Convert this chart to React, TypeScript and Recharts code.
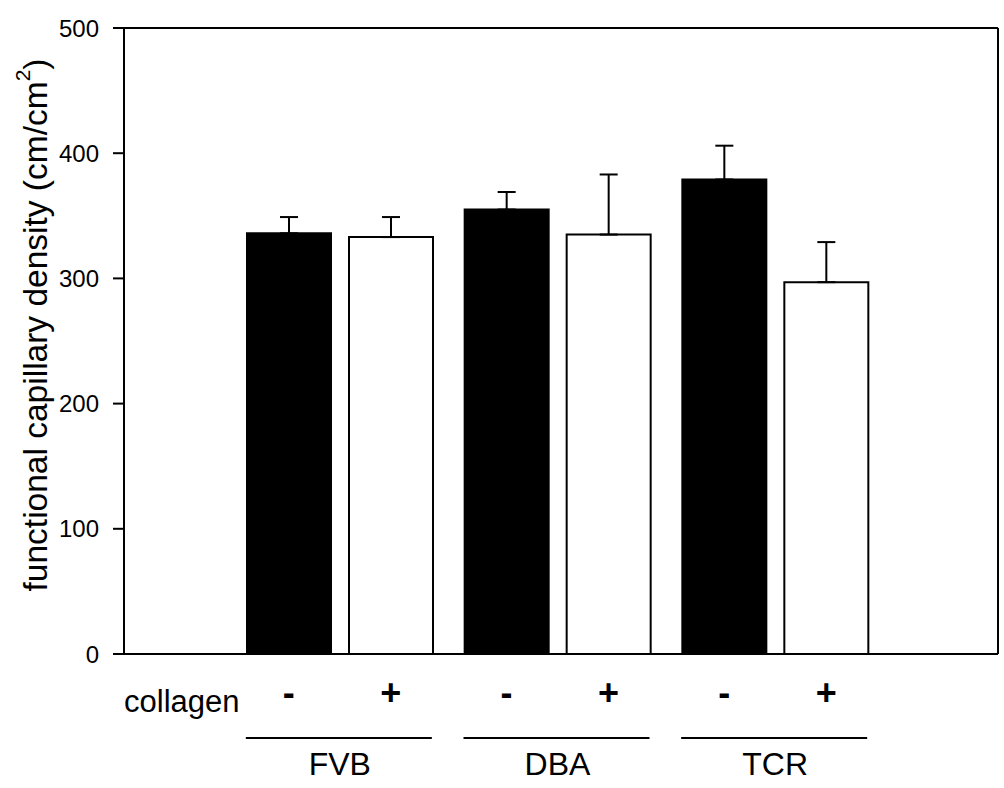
import React from 'react';
import { BarChart, Bar, XAxis, YAxis, ErrorBar, Label, CartesianGrid } from 'recharts';

const groups = ['FVB', 'DBA', 'TCR'];
const withoutCollagen = [336, 355, 379];
const withoutCollagenSem = [13, 14, 27];
const withCollagen = [333, 335, 297];
const withCollagenSem = [16, 48, 32];
const yTicks = [0, 100, 200, 300, 400, 500];

const data = groups.map((group, i) => ({
  group,
  minus: withoutCollagen[i],
  minusErr: [0, withoutCollagenSem[i]],
  plus: withCollagen[i],
  plusErr: [0, withCollagenSem[i]],
}));

const FONT = '"Liberation Sans", Arial, sans-serif';
const BAR_SIZE = 84;
const BAR_GAP = 18;
const HALF = (BAR_SIZE + BAR_GAP) / 2;

function GroupTick(props: any) {
  const { x, y, payload, index } = props;
  return (
    <g fontFamily={FONT} fill="#000">
      {index === 0 && (
        <text x={x - 158} y={y + 58} fontSize={31} textAnchor="middle">
          collagen
        </text>
      )}
      <text x={x - HALF} y={y + 51} fontSize={36} fontWeight="bold" textAnchor="middle">
        -
      </text>
      <text x={x + HALF} y={y + 51} fontSize={36} fontWeight="bold" textAnchor="middle">
        +
      </text>
      <line x1={x - HALF - 43} x2={x + HALF + 41} y1={y + 84} y2={y + 84} stroke="#000" strokeWidth={2} />
      <text x={x} y={y + 121} fontSize={32} textAnchor="middle">
        {payload.value}
      </text>
    </g>
  );
}

function YTitle(props: any) {
  const { viewBox } = props;
  const cx = viewBox.x + 35;
  const cy = 325;
  return (
    <text
      x={cx}
      y={cy}
      transform={`rotate(-90, ${cx}, ${cy})`}
      textAnchor="middle"
      dominantBaseline="central"
      fontFamily={FONT}
      fontSize={33.5}
      fill="#000"
    >
      functional capillary density (cm/cm
      <tspan fontSize={21} dy={-13}>2</tspan>
      <tspan dy={13}>)</tspan>
    </text>
  );
}

export default function App() {
  return (
    <div style={{ position: 'absolute', left: 0, top: 0, background: '#fff' }}>
      <BarChart
        width={1004}
        height={788}
        data={data}
        margin={{ top: 28, right: 6, bottom: 0, left: 0 }}
        barSize={BAR_SIZE}
        barGap={BAR_GAP}
      >
        {/* top and right frame lines */}
        <CartesianGrid
          stroke="#000"
          strokeWidth={2}
          horizontalCoordinatesGenerator={({ offset }: any) => [offset.top]}
          verticalCoordinatesGenerator={({ offset }: any) => [offset.left + offset.width]}
        />
        <XAxis
          dataKey="group"
          height={134}
          padding={{ left: 107, right: 114 }}
          axisLine={{ stroke: '#000', strokeWidth: 2 }}
          tickLine={false}
          tickSize={0}
          tickMargin={0}
          tick={<GroupTick />}
          interval={0}
        />
        <YAxis
          width={124}
          domain={[0, 500]}
          ticks={yTicks}
          interval={0}
          tickSize={11}
          tickMargin={14}
          axisLine={{ stroke: '#000', strokeWidth: 2 }}
          tickLine={{ stroke: '#000', strokeWidth: 2 }}
          tick={{ fill: '#000', fontSize: 24, fontFamily: FONT }}
        >
          <Label content={<YTitle />} />
        </YAxis>
        <Bar dataKey="minus" fill="#000" stroke="#000" strokeWidth={2} isAnimationActive={false}>
          <ErrorBar dataKey="minusErr" width={9} stroke="#000" strokeWidth={2} direction="y" />
        </Bar>
        <Bar dataKey="plus" fill="#fff" stroke="#000" strokeWidth={2} isAnimationActive={false}>
          <ErrorBar dataKey="plusErr" width={9} stroke="#000" strokeWidth={2} direction="y" />
        </Bar>
      </BarChart>
    </div>
  );
}
